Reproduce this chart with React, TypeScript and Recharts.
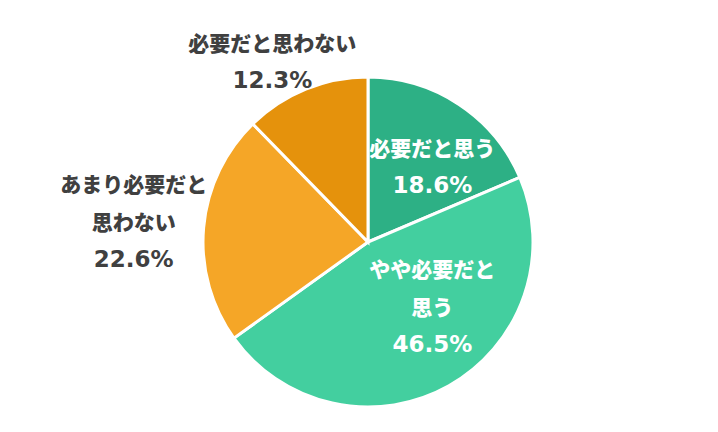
import { PieChart, Pie, Cell } from "recharts";

const categories = ["必要だと思う", "やや必要だと思う", "あまり必要だと思わない", "必要だと思わない"];
const shares = [18.6, 46.5, 22.6, 12.3];
// label lines as drawn in the chart (wrapped by hand)
const labelLines = [
    ["必要だと思う"],
    ["やや必要だと", "思う"],
    ["あまり必要だと", "思わない"],
    ["必要だと思わない"],
];

const COLORS = ["#2db085", "#43cf9f", "#f5a627", "#e5920c"];
const LABEL_COLORS = ["#ffffff", "#ffffff", "#404040", "#404040"];
// block centre relative to the pie centre, in units of the radius
const LABEL_OFFSET = [
    { x: 0.39, y: -0.46 },
    { x: 0.39, y: 0.39 },
    { x: -1.42, y: -0.13 },
    { x: -0.58, y: -1.1 },
];

const data = categories.map((name, i) => ({ name, value: shares[i] }));

const LINE_H = 38;

const renderLabel = (props: any) => {
    const { cx, cy, outerRadius, index } = props;
    const off = LABEL_OFFSET[index];
    const lines = [...labelLines[index], `${shares[index].toFixed(1)}%`];
    const bx = cx + off.x * outerRadius;
    const by = cy + off.y * outerRadius;
    const top = by - ((lines.length - 1) * LINE_H) / 2;
    return (
        <text
            key={`lbl-${index}`}
            x={bx}
            y={top}
            textAnchor="middle"
            dominantBaseline="central"
            fill={LABEL_COLORS[index]}
            fontSize={21}
            fontWeight={900}
            fontFamily="'Noto Sans CJK JP', 'Noto Sans', sans-serif"
        >
            {lines.map((line, i) => {
                const isPct = i === lines.length - 1;
                return (
                    <tspan
                        key={i}
                        x={bx}
                        y={top + i * LINE_H}
                        fontFamily={isPct ? "'DejaVu Sans', sans-serif" : undefined}
                        fontWeight={isPct ? "bold" : undefined}
                        fontSize={isPct ? 23 : undefined}
                    >
                        {line}
                    </tspan>
                );
            })}
        </text>
    );
};

export default function App() {
    return (
        <div style={{ position: "fixed", left: 0, top: 0, width: 718, height: 432, background: "#fff" }}>
            <PieChart width={718} height={432} margin={{ top: 0, right: 0, bottom: 0, left: 0 }}>
                <Pie
                    data={data}
                    dataKey="value"
                    nameKey="name"
                    cx={368}
                    cy={242}
                    outerRadius={165}
                    startAngle={90}
                    endAngle={-270}
                    stroke="#ffffff"
                    strokeWidth={3}
                    label={renderLabel}
                    labelLine={false}
                    isAnimationActive={false}
                >
                    {data.map((entry, index) => (
                        <Cell key={`cell-${index}`} fill={COLORS[index]} />
                    ))}
                </Pie>
            </PieChart>
        </div>
    );
}
